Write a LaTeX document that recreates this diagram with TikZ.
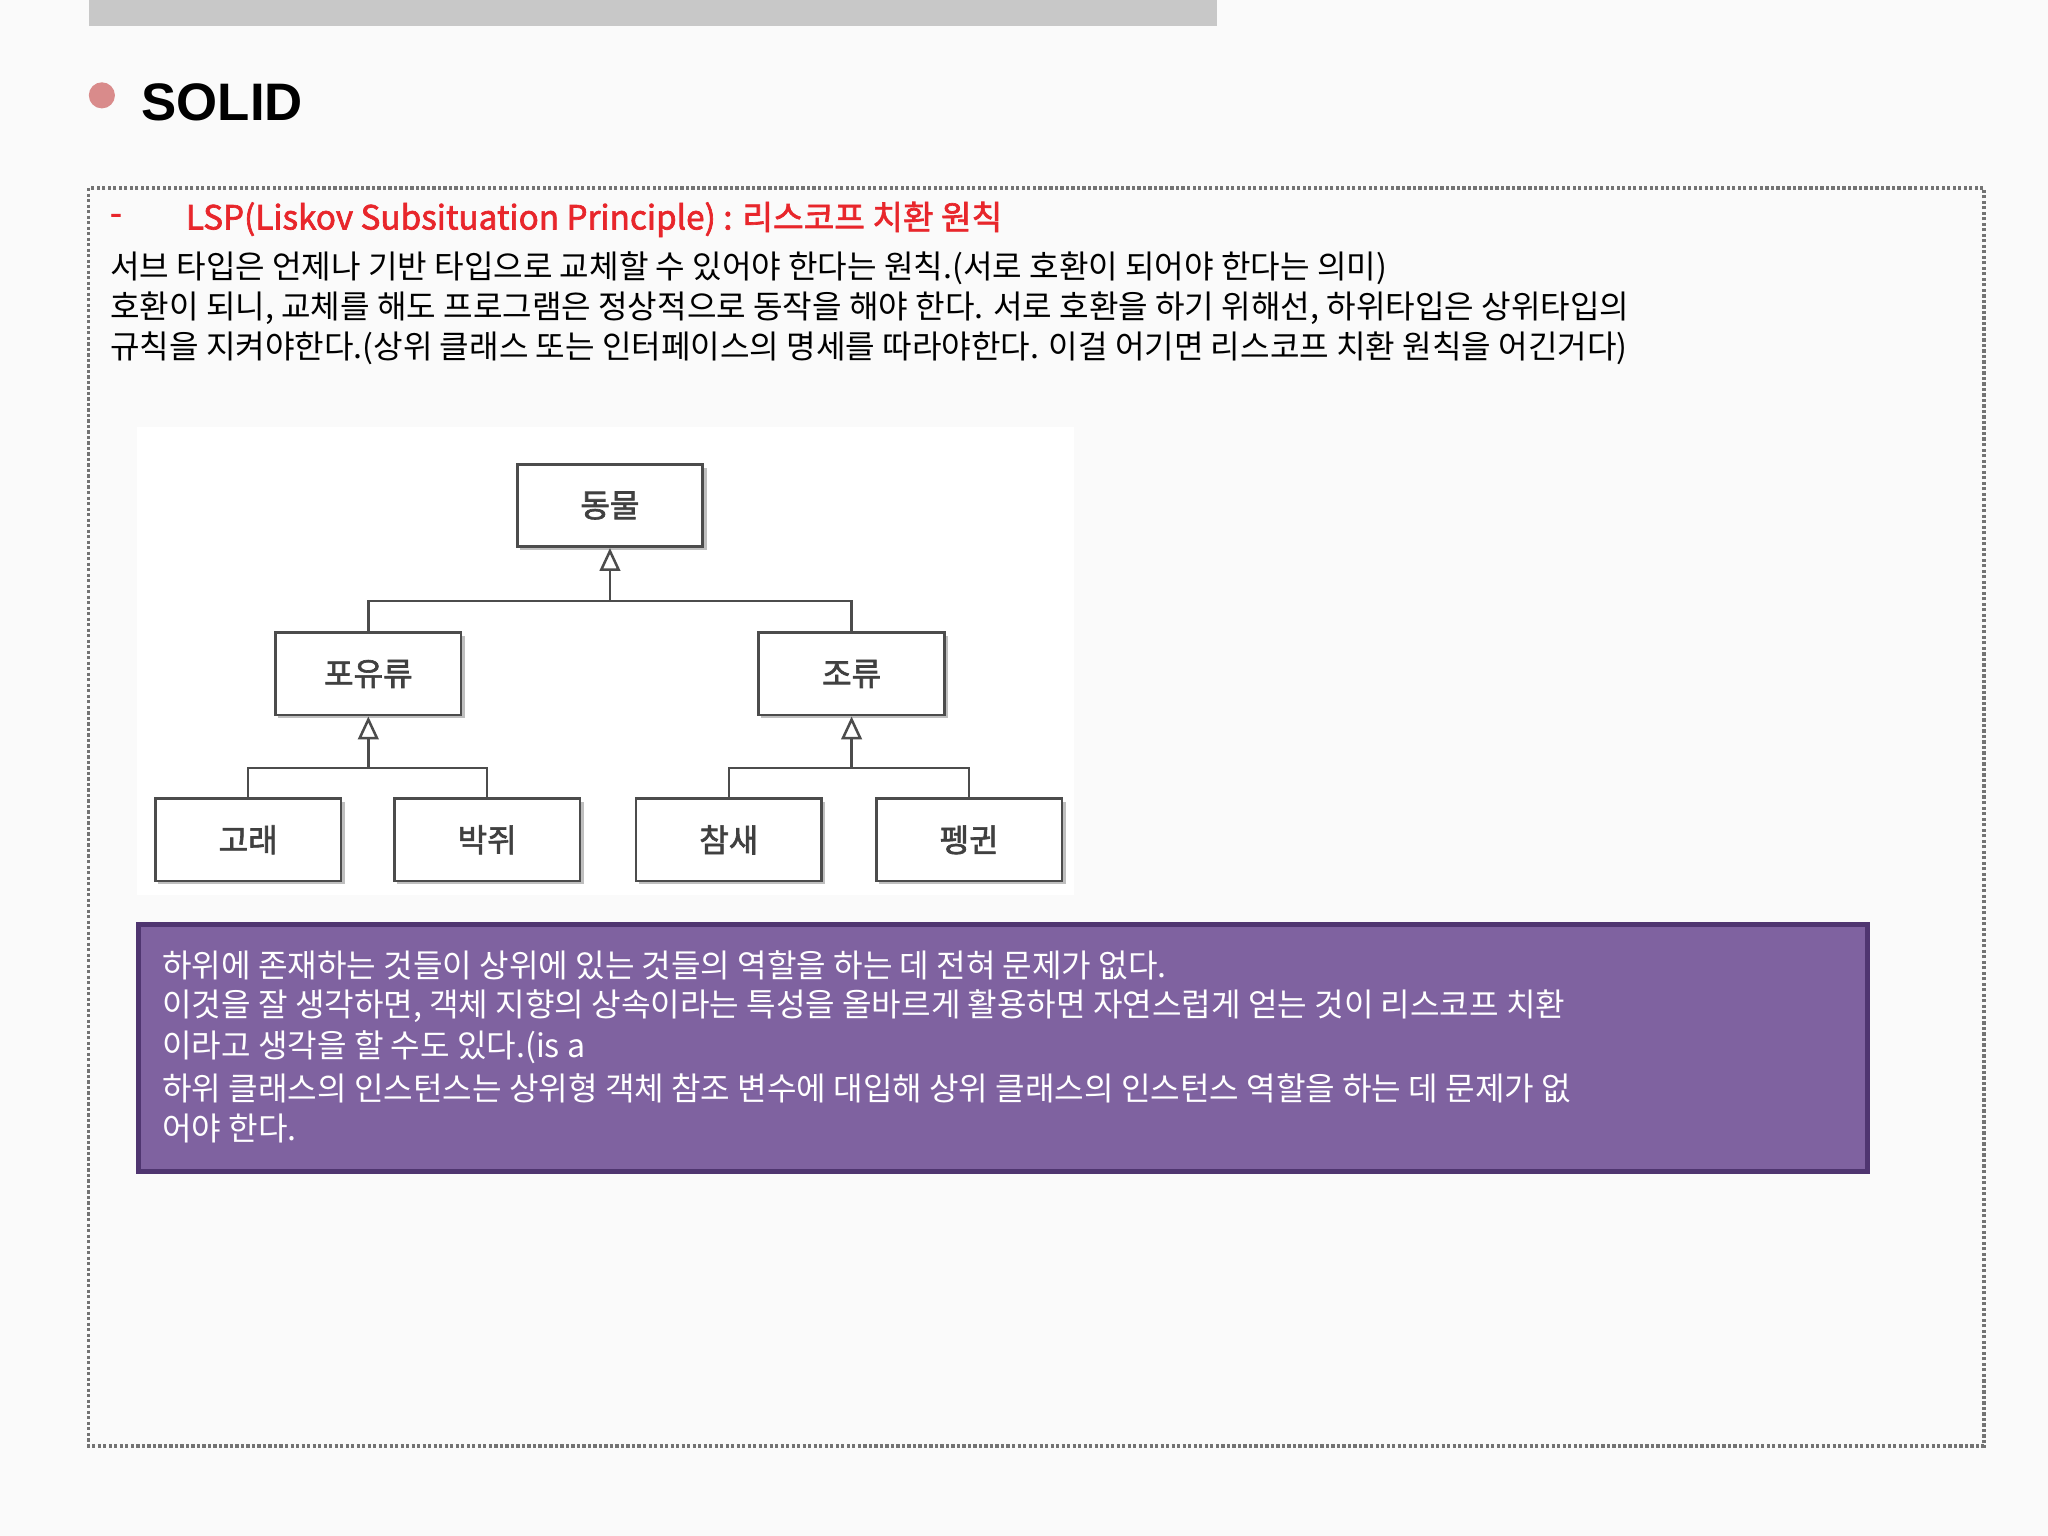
\documentclass[tikz,border=0pt]{standalone}
\usepackage{fontspec}
\setmainfont{Noto Sans CJK KR}[AutoFakeBold=2]
\newfontfamily\titlefont{Liberation Sans}
\usetikzlibrary{arrows.meta}
\definecolor{bg}{HTML}{FAFAFA}
\definecolor{bar}{HTML}{C8C8C8}
\definecolor{bul}{HTML}{D98B8B}
\definecolor{lsp}{HTML}{E8262B}
\definecolor{pur}{HTML}{7F62A0}
\definecolor{purd}{HTML}{4F3570}
\begin{document}
\begin{tikzpicture}[x=0.02cm,y=-0.02cm,
  body/.style={anchor=west,inner sep=0,font=\fontsize{14}{16}\selectfont},
  cls/.style={draw=black!70,fill=white,line width=1.2pt,minimum width=142*0.02cm,minimum height=63*0.02cm,font=\fontsize{14}{16}\selectfont\bfseries\color{black!75},
    drop shadow/.style={}},
  inh/.style={draw=black!70,line width=1.1pt,-{Triangle[open,length=10pt,width=9pt]}},
  ln/.style={draw=black!70,line width=1.1pt}]
\fill[bg] (0,0) rectangle (1568,1176);
\useasboundingbox (0,0) rectangle (1568,1176);
\fill[bar] (68,0) rectangle (932,20);
\fill[bul] (78,73) circle (10);
\node[anchor=west,inner sep=0,font=\titlefont\fontsize{23}{26}\selectfont\bfseries] (title) at (108,78) {SOLID};
\draw[black!55,densely dotted,line width=1.4pt] (68,144) rectangle (1519,1107);
\node[anchor=west,inner sep=0,text=lsp,font=\fontsize{14.5}{16}\selectfont\bfseries] (dash) at (84,168) {-};
\node[anchor=west,inner sep=0,text=lsp,font=\fontsize{14.5}{16}\selectfont\bfseries] (lsp) at (142,168) {LSP(Liskov Subsituation Principle) : 리스코프 치환 원칙};
\node[body] (l1) at (84,205) {서브 타입은 언제나 기반 타입으로 교체할 수 있어야 한다는 원칙.(서로 호환이 되어야 한다는 의미)};
\node[body] (l2) at (84,236) {호환이 되니, 교체를 해도 프로그램은 정상적으로 동작을 해야 한다. 서로 호환을 하기 위해선, 하위타입은 상위타입의};
\node[body] (l3) at (84,267) {규칙을 지켜야한다.(상위 클래스 또는 인터페이스의 명세를 따라야한다. 이걸 어기면 리스코프 치환 원칙을 어긴거다)};
\fill[white] (105,327) rectangle (822,685);
\foreach \n/\x/\y/\t in {a/467/387/동물, m/282/516/포유류, b/652/516/조류, w/190/643/고래, bat/373/643/박쥐, s/558/643/참새, p/742/643/펭귄}{
  \fill[black!25] (\x-69,\y-29) rectangle (\x+74,\y+34);
  \node[cls] (\n) at (\x,\y) {\t};
}
\coordinate (ja) at (467,460);
\coordinate (jm) at (282,588);
\coordinate (jb) at (652,588);
\draw[inh] (ja) -- (a.south);
\draw[ln] (m.north) |- (ja) -| (b.north);
\draw[inh] (jm) -- (m.south);
\draw[ln] (w.north) |- (jm) -| (bat.north);
\draw[inh] (jb) -- (b.south);
\draw[ln] (s.north) |- (jb) -| (p.north);
\draw[fill=pur,draw=purd,line width=2pt] (106,708) rectangle (1430,897);
\foreach \i/\y/\t in {1/739/하위에 존재하는 것들이 상위에 있는 것들의 역할을 하는 데 전혀 문제가 없다.,
  2/770/이것을 잘 생각하면{,} 객체 지향의 상속이라는 특성을 올바르게 활용하면 자연스럽게 얻는 것이 리스코프 치환,
  3/802/이라고 생각을 할 수도 있다.(is a / is able to 관계를 잘 구성하면 된다.),
  4/833/하위 클래스의 인스턴스는 상위형 객체 참조 변수에 대입해 상위 클래스의 인스턴스 역할을 하는 데 문제가 없,
  5/864/어야 한다.}{
  \node[body,text=white] (p\i) at (124,\y) {\t};
}
\end{tikzpicture}
\end{document}
